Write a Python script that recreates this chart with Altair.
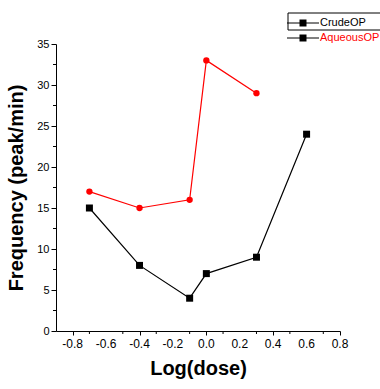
import altair as alt
import pandas as pd

# Frequency of contractions versus log dose for the two extracts
crude_dose = [-0.7, -0.4, -0.1, 0.0, 0.3, 0.6]
crude_freq = [15, 8, 4, 7, 9, 24]
aqueous_dose = [-0.7, -0.4, -0.1, 0.0, 0.3]
aqueous_freq = [17, 15, 16, 33, 29]
series_names = ["CrudeOP", "AqueousOP"]
series_colors = ["#000000", "#ff0000"]

# Axis tick positions (major ticks are labelled, minor ones are not)
x_major_ticks = [-0.8, -0.6, -0.4, -0.2, 0.0, 0.2, 0.4, 0.6, 0.8]
x_minor_ticks = [-0.7, -0.5, -0.3, -0.1, 0.1, 0.3, 0.5, 0.7]
y_major_ticks = [0, 5, 10, 15, 20, 25, 30, 35]
y_minor_ticks = [2.5, 7.5, 12.5, 17.5, 22.5, 27.5, 32.5]

crude = pd.DataFrame({"dose": crude_dose, "freq": crude_freq, "series": "CrudeOP"})
aqueous = pd.DataFrame({"dose": aqueous_dose, "freq": aqueous_freq, "series": "AqueousOP"})
legend_df = pd.DataFrame({"series": series_names})
x_major_df = pd.DataFrame({"dose": x_major_ticks})
x_minor_df = pd.DataFrame({"dose": x_minor_ticks})
y_minor_df = pd.DataFrame({"freq": y_minor_ticks})

FONT = "Liberation Sans"
PLOT_W, PLOT_H = 284, 287

color_scale = alt.Scale(domain=series_names, range=series_colors)

x_enc = alt.X(
    "dose:Q",
    scale=alt.Scale(domain=[-0.9, 0.8], nice=False, zero=False),
    axis=alt.Axis(
        title="Log(dose)",
        values=x_major_ticks,
        labels=False,
        tickSize=4,
        grid=False,
        titleFont=FONT,
        titleFontSize=20,
        titleFontWeight="bold",
        titleColor="#000000",
        titlePadding=23,
        domainColor="#000000",
        tickColor="#000000",
    ),
)

y_enc = alt.Y(
    "freq:Q",
    scale=alt.Scale(domain=[0, 35], nice=False),
    axis=alt.Axis(
        title="Frequency (peak/min)",
        values=y_major_ticks,
        tickSize=5,
        grid=False,
        labelOverlap=False,
        labelFont=FONT,
        labelFontSize=11,
        labelColor="#000000",
        labelPadding=2,
        titleFont=FONT,
        titleFontSize=20,
        titleFontWeight="bold",
        titleColor="#000000",
        titlePadding=10,
        domainColor="#000000",
        tickColor="#000000",
    ),
)

color_enc = alt.Color("series:N", scale=color_scale, legend=None)

crude_line = alt.Chart(crude).mark_line(strokeWidth=1.2).encode(x=x_enc, y=y_enc, color=color_enc)
crude_pts = alt.Chart(crude).mark_point(
    shape="square", filled=True, size=49, opacity=1
).encode(x="dose:Q", y="freq:Q", color=color_enc)
aq_line = alt.Chart(aqueous).mark_line(strokeWidth=1.2).encode(x="dose:Q", y="freq:Q", color=color_enc)
aq_pts = alt.Chart(aqueous).mark_point(
    shape="circle", filled=True, size=40, opacity=1
).encode(x="dose:Q", y="freq:Q", color=color_enc)

# Short unlabelled minor ticks hanging off the two axis lines
x_minor = alt.Chart(x_minor_df).mark_rule(color="#000000", strokeWidth=1).encode(
    x="dose:Q", y=alt.value(PLOT_H), y2=alt.value(PLOT_H + 3)
)
y_minor = alt.Chart(y_minor_df).mark_rule(color="#000000", strokeWidth=1).encode(
    y="freq:Q", x=alt.value(0), x2=alt.value(-3)
)

# Labels under every major x tick, with a plain hyphen for negatives
x_labels = alt.Chart(x_major_df).transform_calculate(
    txt="replace(format(datum.dose, '.1f'), '\u2212', '-')"
).mark_text(
    baseline="top", align="center", font=FONT, fontSize=12, color="#000000"
).encode(x="dose:Q", y=alt.value(PLOT_H + 8), text="txt:N")

data_layer = alt.layer(crude_line, aq_line, crude_pts, aq_pts, x_minor, y_minor, x_labels)

# Key in the top-right corner, above the plot area
key_y = alt.Y(
    "series:N",
    scale=alt.Scale(type="point", domain=series_names, range=[-21, -6], padding=0),
    axis=None,
)
key_box = alt.Chart(legend_df).mark_rect(
    fill=None, stroke="#000000", strokeWidth=1
).encode(
    x=alt.value(232), x2=alt.value(330), y=alt.value(-31), y2=alt.value(-14)
).transform_filter("datum.series == 'CrudeOP'")
key_rule = alt.Chart(legend_df).mark_rule(color="#000000", strokeWidth=1).encode(
    x=alt.value(231), x2=alt.value(263), y=key_y
)
key_sym = alt.Chart(legend_df).mark_point(
    shape="square", filled=True, size=49, opacity=1, color="#000000"
).encode(x=alt.value(247), y=key_y)
key_text = alt.Chart(legend_df).mark_text(
    align="left", baseline="middle", font=FONT, fontSize=11
).encode(x=alt.value(264), y=key_y, text="series:N", color=color_enc)

key_layer = alt.layer(key_box, key_rule, key_sym, key_text)

chart = (
    alt.layer(data_layer, key_layer)
    .resolve_scale(y="independent")
    .properties(
        width=PLOT_W,
        height=PLOT_H,
        autosize=alt.AutoSizeParams(type="none"),
        padding={"left": 56, "top": 44, "right": 40, "bottom": 58},
        background="#ffffff",
    )
    .configure_view(stroke=None)
    .configure_axis(domainWidth=1, tickWidth=1)
)

chart.save("out.html", embed_options={"renderer": "svg", "actions": False})
